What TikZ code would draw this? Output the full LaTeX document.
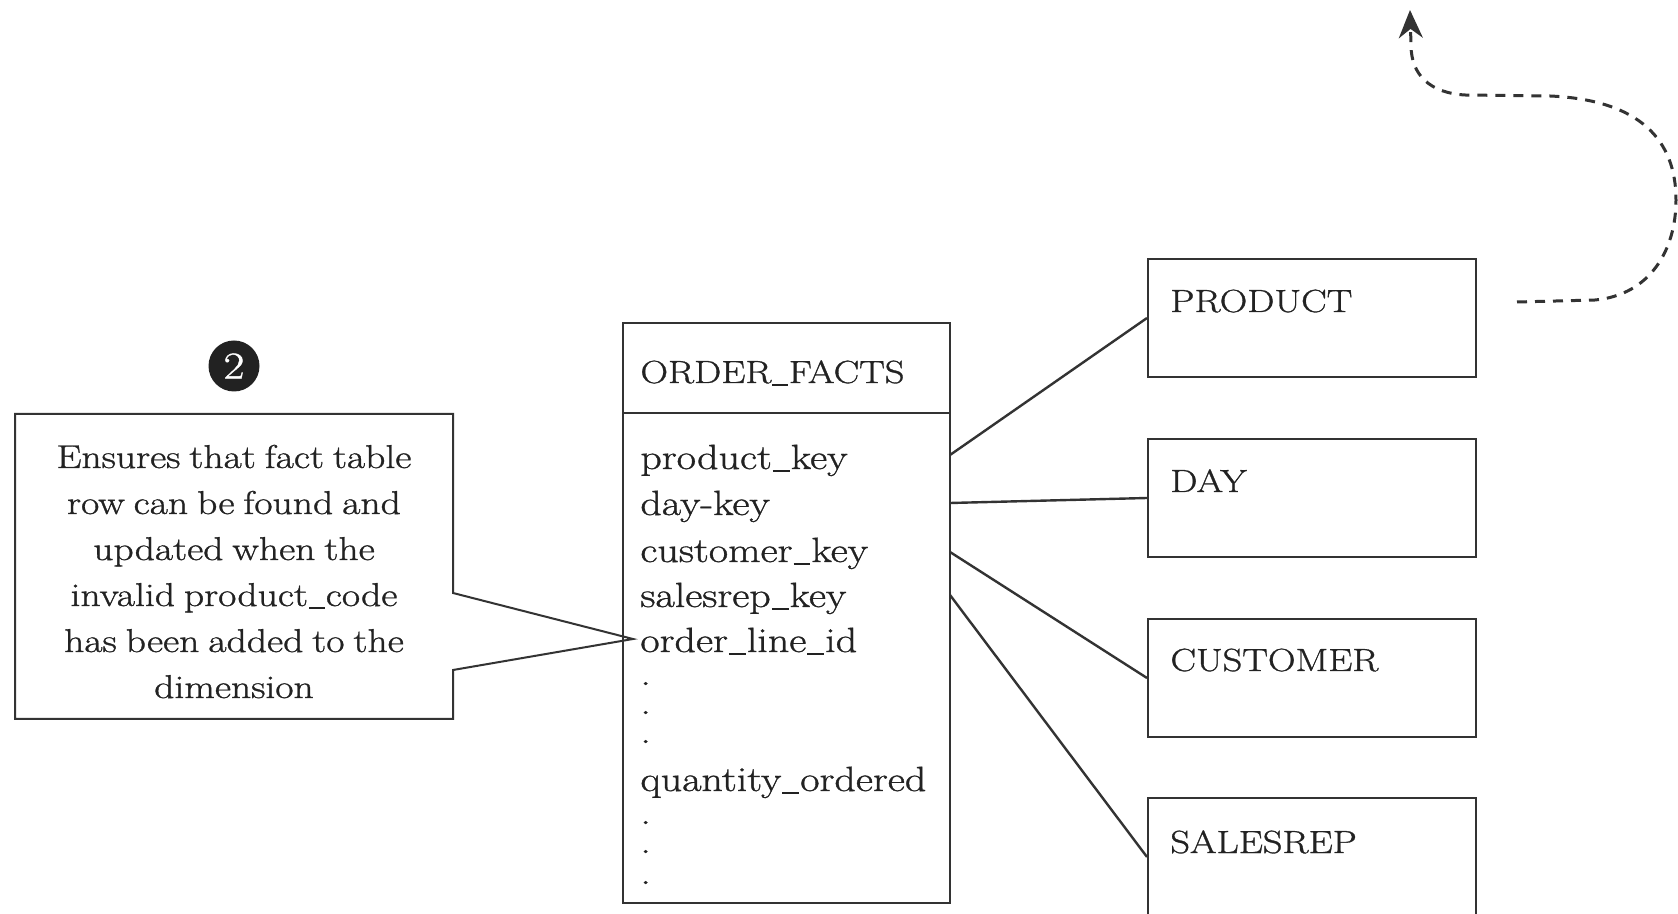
\documentclass[tikz,border=0pt]{standalone}
\usepackage{fontspec}
\setmainfont{Latin Modern Roman}[FakeStretch=1.2,FakeBold=1.0,WordSpace=0.75]
\usetikzlibrary{arrows.meta}
\definecolor{linec}{HTML}{333333}
\definecolor{txtc}{HTML}{222222}
\newcommand\usc{\kern0.03em\rule[-0.09em]{0.48em}{0.055em}\kern0.03em}
\tikzset{
  tbox/.style={draw=linec, line width=1pt, rectangle, inner sep=0pt, anchor=north west},
  conn/.style={draw=linec, line width=1.2pt},
  lbl/.style={anchor=base west, inner sep=0pt, text=txtc, font=\fontsize{16}{23}\selectfont},
  fld/.style={anchor=base west, inner sep=0pt, text=txtc, font=\fontsize{17.5}{23}\selectfont},
  ctext/.style={anchor=base, inner sep=0pt, text=txtc, font=\fontsize{16.5}{23}\selectfont},
  flow/.style={draw=linec, line width=1.5pt, dash pattern=on 5pt off 4pt, -{Stealth[length=14pt,width=12pt]}},
}
\begin{document}
\begin{tikzpicture}[x=0.5pt,y=-0.5pt]
\clip (0,0) rectangle (1678,914);
\fill[white] (0,0) rectangle (1678,914);
% fact table
\node[tbox, minimum width=327*0.5pt, minimum height=580*0.5pt] (facts) at (622,322) {};
\draw[draw=linec, line width=1pt] (facts.west |- 0,413) -- (facts.east |- 0,413);
\node[lbl] (title) at (640,383) {ORDER\usc FACTS};
\node[fld] (pk) at (640,469) {product\usc key};
\node[fld] (dk) at (640,515) {day-key};
\node[fld] (ck) at (640,562) {customer\usc key};
\node[fld] (sk) at (640,607) {salesrep\usc key};
\node[fld] (ol) at (640,652) {order\usc line\usc id};
\node[fld] (d1) at (640,685) {.};
\node[fld] (d2) at (640,714) {.};
\node[fld] (d3) at (640,743) {.};
\node[fld] (qo) at (640,791) {quantity\usc ordered};
\node[fld] (d4) at (640,824) {.};
\node[fld] (d5) at (640,853) {.};
\node[fld] (d6) at (640,884) {.};
% dimension tables
\node[tbox, minimum width=328*0.5pt, minimum height=118*0.5pt] (prod) at (1147,258) {};
\node[tbox, minimum width=328*0.5pt, minimum height=118*0.5pt] (day) at (1147,438) {};
\node[tbox, minimum width=328*0.5pt, minimum height=118*0.5pt] (cust) at (1147,618) {};
\node[tbox, minimum width=328*0.5pt, minimum height=118*0.5pt] (srep) at (1147,797) {};
\node[lbl] (prodl) at (1170,312) {PRODUCT};
\node[lbl] (dayl) at (1170,492) {DAY};
\node[lbl] (custl) at (1170,671) {CUSTOMER};
\node[lbl] (srepl) at (1170,853) {SALESREP};
% connectors
\coordinate (f1) at (950,455);
\coordinate (f2) at (950,503);
\coordinate (f3) at (950,552);
\coordinate (f4) at (950,595);
\draw[conn] (f1) -- (prod.west);
\draw[conn] (f2) -- (day.west);
\draw[conn] (f3) -- (cust.west);
\draw[conn] (f4) -- (srep.west);
% callout
\coordinate (tip) at (633,639);
\draw[draw=linec, line width=1pt] (15,414) -- (453,414) -- (453,593) -- (tip) -- (453,670) -- (453,719) -- (15,719) -- cycle;
\node[ctext] (c1) at (234,468) {Ensures that fact table};
\node[ctext] (c2) at (234,514) {row can be found and};
\node[ctext] (c3) at (234,560) {updated when the};
\node[ctext] (c4) at (234,606) {invalid product\usc code};
\node[ctext] (c5) at (234,652) {has been added to the};
\node[ctext] (c6) at (234,698) {dimension};
% number badge
\node[circle, fill=txtc, minimum size=51*0.5pt, inner sep=0pt, text=white, font=\fontsize{19}{20}\selectfont] (num) at (234,366) {2};
% dashed flow arrow
\coordinate (fs) at (1517,302);
\coordinate (fe) at (1410,10);
\draw[flow] (fs) -- (1595,300) .. controls (1650,295) and (1676,250) .. (1676,200)
  .. controls (1676,140) and (1640,100) .. (1550,96) -- (1465,95)
  .. controls (1430,93) and (1411,75) .. (1411,45) -- (fe);
\end{tikzpicture}
\end{document}
